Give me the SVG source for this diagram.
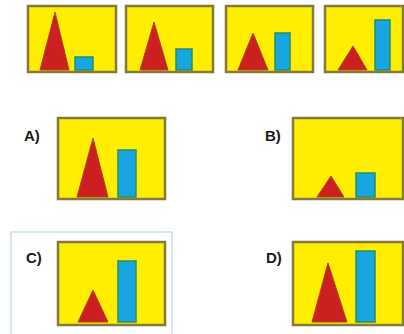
<svg xmlns="http://www.w3.org/2000/svg" width="404" height="334" viewBox="0 0 404 334">
<style>
.box{fill:#ffee00;stroke:#857a3c;stroke-width:2.5}
.tri{fill:#cc1f1f;stroke:#b0461a;stroke-width:1}
.bar{fill:#17a6e0;stroke:#2a8a6a;stroke-width:1.5}
.lbl{font-family:"Liberation Sans",Arial,sans-serif;font-size:15px;font-weight:bold;fill:#1a1a1a}
</style>
<rect width="404" height="334" fill="#ffffff"/>
<g id="seq1"><rect class="box" x="28" y="6" width="88" height="66"/><polygon class="tri" points="55,12 40,70 69,70"/><rect class="bar" x="75" y="57" width="18" height="13"/></g>
<g id="seq2"><rect class="box" x="126" y="6" width="87" height="66"/><polygon class="tri" points="154,22 140,70 168,70"/><rect class="bar" x="176" y="49" width="16" height="21"/></g>
<g id="seq3"><rect class="box" x="226" y="6" width="87" height="66"/><polygon class="tri" points="253,33 238,70 268,70"/><rect class="bar" x="275" y="33" width="15" height="37"/></g>
<g id="seq4"><rect class="box" x="325" y="6" width="78" height="66"/><polygon class="tri" points="353,46 338,70 367,70"/><rect class="bar" x="375" y="20" width="15" height="50"/></g>
<g id="optA"><text class="lbl" x="24" y="141">A)</text><rect class="box" x="58" y="118" width="107" height="81"/><polygon class="tri" points="93,138 77,197 108,197"/><rect class="bar" x="118" y="150" width="18" height="47"/></g>
<g id="optB"><text class="lbl" x="265" y="141">B)</text><rect class="box" x="293" y="118" width="110" height="81"/><polygon class="tri" points="331,176 317,197 344,197"/><rect class="bar" x="356" y="173" width="19" height="24"/></g>
<g id="optC"><rect x="11" y="232" width="161" height="106" fill="none" stroke="#c6dff0" stroke-width="1.5"/><text class="lbl" x="26" y="263">C)</text><rect class="box" x="58" y="242" width="107" height="83"/><polygon class="tri" points="93,290 78,322 108,322"/><rect class="bar" x="118" y="261" width="18" height="61"/></g>
<g id="optD"><text class="lbl" x="266" y="263">D)</text><rect class="box" x="293" y="242" width="110" height="83"/><polygon class="tri" points="328,263 312,322 347,322"/><rect class="bar" x="356" y="251" width="19" height="71"/></g>
</svg>
